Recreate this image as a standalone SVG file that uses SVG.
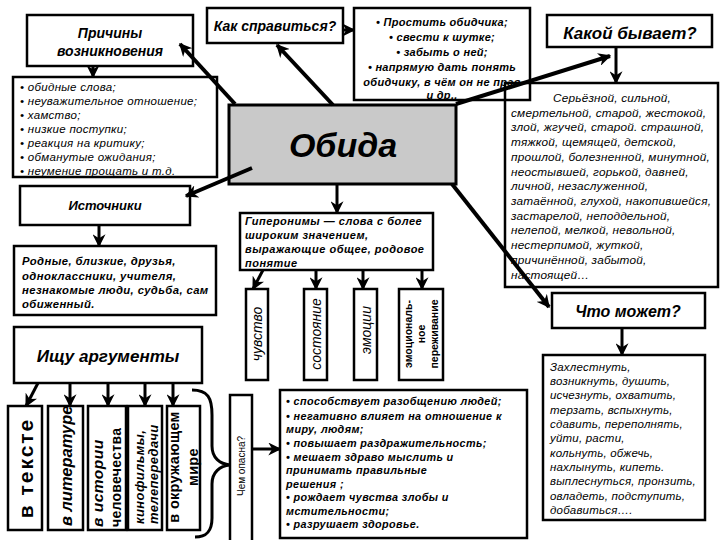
<svg xmlns="http://www.w3.org/2000/svg" width="720" height="540" viewBox="0 0 720 540">
<defs>
<marker id="ah" viewBox="0 0 10 10" refX="9" refY="5" markerUnits="userSpaceOnUse" markerWidth="13" markerHeight="13" orient="auto">
<path d="M0,0 L10,5 L0,10 L3,5 z" fill="#000"/>
</marker>
</defs>
<style>
.box{fill:#fff;stroke:#000;stroke-width:2.5}
text{font-family:"Liberation Sans",Arial,sans-serif;fill:#000}
.bi{font-weight:bold;font-style:italic}
.i{font-style:italic}
.b{font-weight:bold}
.c{text-anchor:middle}
.v{dominant-baseline:central}
#connectors line,#connectors path.a{stroke:#000;stroke-width:4;fill:none;marker-end:url(#ah)}
#connectors line.s{stroke-width:3}
</style>
<rect width="720" height="540" fill="#fff"/>

<g id="prichiny">
<rect class="box" x="27" y="15" width="166" height="51"/>
<text class="bi c" x="110" y="38" font-size="14">Причины</text>
<text class="bi c" x="110" y="56" font-size="14">возникновения</text>
</g>

<g id="prichiny-list">
<rect class="box" x="13" y="77" width="204" height="100"/>
<g class="i" font-size="11.5" letter-spacing="0.3">
<text x="20" y="91">• обидные слова;</text>
<text x="20" y="105">• неуважительное отношение;</text>
<text x="20" y="119">• хамство;</text>
<text x="20" y="133">• низкие поступки;</text>
<text x="20" y="147">• реакция на критику;</text>
<text x="20" y="161">• обманутые ожидания;</text>
<text x="20" y="175">• неумение прощать и т.д.</text>
</g>
</g>

<g id="kak">
<rect class="box" x="207" y="8" width="136" height="35"/>
<text class="bi c" x="275" y="31" font-size="14">Как справиться?</text>
</g>

<g id="kakoy-list">
<rect class="box" x="505" y="83" width="213" height="204"/>
<g class="i" font-size="11.8" letter-spacing="0.2">
<text x="553" y="102">Серьёзной, сильной,</text>
<text x="511" y="117">смертельной, старой, жестокой,</text>
<text x="511" y="131">злой, жгучей, старой. страшной,</text>
<text x="511" y="146">тяжкой, щемящей, детской,</text>
<text x="511" y="161">прошлой, болезненной, минутной,</text>
<text x="511" y="176">неостывшей, горькой, давней,</text>
<text x="511" y="190">личной, незаслуженной,</text>
<text x="511" y="205">затаённой, глухой, накопившейся,</text>
<text x="511" y="220">застарелой, неподдельной,</text>
<text x="511" y="234">нелепой, мелкой, невольной,</text>
<text x="511" y="249">нестерпимой, жуткой,</text>
<text x="511" y="264">причинённой, забытой,</text>
<text x="511" y="279">настоящей…</text>
</g>
</g>

<g id="prostit">
<rect x="354" y="8" width="176" height="92" fill="none" stroke="#000" stroke-width="2.5"/>
<g class="bi c" font-size="11" letter-spacing="0.3">
<text x="442" y="26">• Простить обидчика;</text>
<text x="442" y="41">• свести к шутке;</text>
<text x="442" y="56">•  забыть о ней;</text>
<text x="442" y="71">• напрямую дать понять</text>
<text x="442" y="86">обидчику, в чём он не прав</text>
<text x="442" y="99">и др..</text>
</g>
</g>

<g id="obida">
<rect x="229" y="105" width="227" height="79" fill="#c9c9c9" stroke="#000" stroke-width="3"/>
<text class="bi c" x="343" y="157" font-size="34">Обида</text>
</g>

<g id="kakoy">
<rect class="box" x="547" y="15" width="165" height="32"/>
<text class="bi c" x="630" y="39" font-size="17">Какой бывает?</text>
</g>

<g id="istochniki">
<rect class="box" x="20" y="186" width="170" height="39"/>
<text class="bi c" x="105" y="210" font-size="13">Источники</text>
</g>

<g id="rodnye">
<rect class="box" x="14" y="246" width="202" height="69"/>
<g class="bi" font-size="11.3" letter-spacing="0.4">
<text x="22" y="265">Родные, близкие,  друзья,</text>
<text x="22" y="280">одноклассники, учителя,</text>
<text x="22" y="294">незнакомые люди, судьба, сам</text>
<text x="22" y="308">обиженный.</text>
</g>
</g>

<g id="ischu">
<rect class="box" x="14" y="327" width="188" height="56"/>
<text class="bi c" x="108" y="362" font-size="17">Ищу аргументы</text>
</g>

<g id="giperonimy">
<rect class="box" x="240" y="213" width="193" height="57" stroke-width="3"/>
<g class="bi" font-size="11" letter-spacing="0.5">
<text x="245" y="225">Гиперонимы — слова с более</text>
<text x="245" y="239">широким значением,</text>
<text x="245" y="253">выражающие общее, родовое</text>
<text x="245" y="267">понятие</text>
</g>
</g>

<g id="chuvstvo">
<rect class="box" x="246" y="289" width="22" height="91" stroke-width="2"/>
<text class="i c v" font-size="14" transform="translate(257,334) rotate(-90)">чувство</text>
</g>
<g id="sostoyanie">
<rect class="box" x="304" y="289" width="23" height="91" stroke-width="2"/>
<text class="i c v" font-size="14" transform="translate(315.5,334) rotate(-90)">состояние</text>
</g>
<g id="emocii">
<rect class="box" x="354" y="289" width="23" height="91" stroke-width="2"/>
<text class="i c v" font-size="14" transform="translate(365.5,330) rotate(-90)">эмоции</text>
</g>
<g id="perezhivanie">
<rect class="box" x="399" y="289" width="44" height="91" stroke-width="2"/>
<g class="b c" font-size="10.5" transform="translate(421,334) rotate(-90)">
<text class="v" x="0" y="-13">эмоциональ-</text>
<text class="v" x="0" y="0">ное</text>
<text class="v" x="0" y="13">переживание</text>
</g>
</g>

<g id="chto-mozhet">
<rect class="box" x="552" y="293" width="153" height="35"/>
<text class="bi c" x="628" y="317" font-size="16">Что может?</text>
</g>

<g id="chto-list">
<rect class="box" x="543" y="355" width="162" height="165"/>
<g class="i" font-size="11.5" letter-spacing="0.2">
<text x="550" y="371">Захлестнуть,</text>
<text x="550" y="385">возникнуть, душить,</text>
<text x="550" y="399">исчезнуть, охватить,</text>
<text x="550" y="414">терзать, вспыхнуть,</text>
<text x="550" y="428">сдавить, переполнять,</text>
<text x="550" y="442">уйти, расти,</text>
<text x="550" y="457">кольнуть, обжечь,</text>
<text x="550" y="471">нахлынуть, кипеть.</text>
<text x="550" y="485">выплеснуться, пронзить,</text>
<text x="550" y="500">овладеть, подступить,</text>
<text x="550" y="514">добавиться….</text>
</g>
</g>

<g id="v-tekste">
<rect class="box" x="8" y="406" width="34" height="124" stroke-width="2"/>
<text class="b c v" font-size="21" letter-spacing="2" transform="translate(25,468) rotate(-90)">в тексте</text>
</g>
<g id="v-literature">
<rect class="box" x="48" y="406" width="35" height="124" stroke-width="2"/>
<text class="bi v" font-size="16.5" transform="translate(65.5,468) rotate(-90)" x="-58" y="0">в литературе</text>
</g>
<g id="v-istorii">
<rect class="box" x="88" y="406" width="38" height="124" stroke-width="2"/>
<g transform="translate(107,468) rotate(-90)">
<text class="bi v" font-size="15.5" letter-spacing="0.5" x="-59" y="-10">в истории</text>
<text class="b v" font-size="14" letter-spacing="0.3" x="-59" y="9">человечества</text>
</g>
</g>
<g id="kino">
<rect class="box" x="128" y="406" width="34" height="124" stroke-width="2"/>
<g class="bi" font-size="13" letter-spacing="0.4" transform="translate(145,468) rotate(-90)">
<text class="v" x="-56" y="-6">кинофильмы,</text>
<text class="v" x="-56" y="8">телепередачи</text>
</g>
</g>
<g id="v-okruzh">
<rect class="box" x="167" y="406" width="33" height="124" stroke-width="2"/>
<g class="b c" font-size="14.5" letter-spacing="0.3" transform="translate(183.5,467) rotate(-90)">
<text class="v" x="0" y="-9.5">в окружающем</text>
<text class="v" x="0" y="9.5">мире</text>
</g>
</g>

<g id="chem-opasna">
<rect class="box" x="230" y="395" width="22" height="150" stroke-width="2"/>
<text class="c v" font-size="10" transform="translate(241,466) rotate(-90)">Чем опасна?</text>
</g>

<g id="opasna-list">
<rect class="box" x="280" y="390" width="247" height="148"/>
<g class="bi" font-size="10.8" letter-spacing="0.4">
<text x="286" y="405">• способствует  разобщению людей;</text>
<text x="286" y="420">• негативно влияет на отношение к</text>
<text x="286" y="433">миру, людям;</text>
<text x="286" y="447">• повышает раздражительность;</text>
<text x="286" y="461">• мешает  здраво мыслить и</text>
<text x="286" y="474">принимать правильные</text>
<text x="286" y="488">решения ;</text>
<text x="286" y="501">• рождает чувства злобы и</text>
<text x="286" y="515"> мстительности;</text>
<text x="286" y="528">•  разрушает здоровье.</text>
</g>
</g>

<g id="connectors">
<line class="s" x1="93" y1="66" x2="93" y2="77"/>
<line x1="235" y1="104" x2="180" y2="44"/>
<line x1="333" y1="105" x2="277" y2="45"/>
<line class="s" x1="343" y1="30" x2="354" y2="30"/>
<line x1="456" y1="104" x2="610" y2="56"/>
<line class="s" x1="616" y1="47" x2="616" y2="83"/>
<line x1="452" y1="184" x2="549" y2="307"/>
<line x1="252" y1="168" x2="186" y2="196"/>
<line class="s" x1="99" y1="225" x2="99" y2="246"/>
<line class="s" x1="337" y1="184" x2="337" y2="213"/>
<line class="s" x1="263" y1="270" x2="253" y2="289"/>
<line class="s" x1="316" y1="270" x2="316" y2="289"/>
<line class="s" x1="363" y1="270" x2="363" y2="289"/>
<line class="s" x1="422" y1="270" x2="422" y2="289"/>
<line class="s" x1="38" y1="383" x2="26" y2="406"/>
<line class="s" x1="70" y1="383" x2="70" y2="406"/>
<line class="s" x1="108" y1="383" x2="108" y2="406"/>
<line class="s" x1="145" y1="383" x2="145" y2="406"/>
<line class="s" x1="173" y1="383" x2="173" y2="406"/>
<line class="s" x1="252" y1="449" x2="280" y2="449"/>
<line class="s" x1="622" y1="328" x2="622" y2="355"/>
<path d="M192,390 C208,390 212,398 212,415 L212,446 C212,458 220,464 230,465 C220,466 212,472 212,484 L212,518 C212,532 206,537 195,537" fill="none" stroke="#000" stroke-width="3"/>
</g>
</svg>
